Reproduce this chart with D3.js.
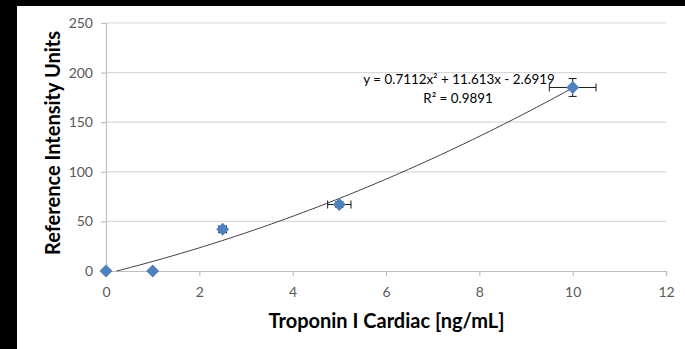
<!DOCTYPE html>
<html><head><meta charset="utf-8">
<script src="https://cdn.jsdelivr.net/npm/d3@7"></script>
<style>body{margin:0;background:#000;}svg{display:block;}</style>
</head><body><svg id="c" width="685" height="349"></svg>
<script>
const xValues = [0, 1, 2.5, 5, 10];
const yValues = [0, 0, 42, 67, 185];
const xErr = [0, 0, 0.08, 0.25, 0.5];
const yErr = [0, 0, 3, 3, 9];
const xTicks = [0, 2, 4, 6, 8, 10, 12];
const yTicks = [0, 50, 100, 150, 200, 250];
const trendCoef = [0.7112, 11.613, -2.6919];
const eqText = ["y = 0.7112x² + 11.613x - 2.6919", "R² = 0.9891"];
const xTitle = "Troponin I Cardiac [ng/mL]";
const yTitle = "Reference Intensity Units";

const svg = d3.select("#c");
svg.append("rect").attr("x",17).attr("y",6).attr("width",668).attr("height",343).attr("fill","#fff");
const x = d3.scaleLinear().domain([0,12]).range([106,666]);
const y = d3.scaleLinear().domain([0,250]).range([271,23]);
const font = "Lato, 'Open Sans', sans-serif";

// gridlines
svg.append("g").selectAll("line").data(yTicks.filter(d=>d>0)).join("line")
  .attr("x1",x(0)).attr("x2",x(12)).attr("y1",d=>y(d)).attr("y2",d=>y(d))
  .attr("stroke","#d9d9d9").attr("stroke-width",1.2);

// axes
const gx = svg.append("g").attr("transform",`translate(0,${y(0)})`)
  .call(d3.axisBottom(x).tickValues(xTicks).tickSize(5).tickPadding(8).tickFormat(d3.format("d")));
const gy = svg.append("g").attr("transform",`translate(${x(0)},0)`)
  .call(d3.axisLeft(y).tickValues(yTicks).tickSize(5).tickPadding(8).tickFormat(d3.format("d")));
[gx,gy].forEach(g=>{
  g.select(".domain").attr("stroke","#bfbfbf").attr("stroke-width",1.2);
  g.selectAll(".tick line").attr("stroke","#bfbfbf").attr("stroke-width",1.2);
  g.selectAll(".tick text").attr("fill","#595959").style("font-family",font).style("font-size","14px");
});
gx.selectAll(".tick text").attr("dy","0.95em");

// trendline (clipped at y>=0)
const f = t => trendCoef[0]*t*t + trendCoef[1]*t + trendCoef[2];
const t0 = (-trendCoef[1] + Math.sqrt(trendCoef[1]**2 - 4*trendCoef[0]*trendCoef[2]))/(2*trendCoef[0]);
const ts = d3.range(0,101).map(i=>t0 + (10-t0)*i/100);
svg.append("path").datum(ts)
  .attr("d", d3.line().x(t=>x(t)).y(t=>y(f(t))))
  .attr("fill","none").attr("stroke","#404040").attr("stroke-width",1);

// error bars
const data = xValues.map((v,i)=>({x:v,y:yValues[i],ex:xErr[i],ey:yErr[i]}));
const eb = svg.append("g").attr("stroke","#000").attr("stroke-width",0.9);
data.filter(d=>d.ex>0).forEach(d=>{
  eb.append("line").attr("x1",x(d.x-d.ex)).attr("x2",x(d.x+d.ex)).attr("y1",y(d.y)).attr("y2",y(d.y));
  eb.append("line").attr("x1",x(d.x-d.ex)).attr("x2",x(d.x-d.ex)).attr("y1",y(d.y)-4).attr("y2",y(d.y)+4);
  eb.append("line").attr("x1",x(d.x+d.ex)).attr("x2",x(d.x+d.ex)).attr("y1",y(d.y)-4).attr("y2",y(d.y)+4);
});
data.filter(d=>d.ey>0).forEach(d=>{
  eb.append("line").attr("x1",x(d.x)).attr("x2",x(d.x)).attr("y1",y(d.y-d.ey)).attr("y2",y(d.y+d.ey));
  eb.append("line").attr("x1",x(d.x)-4).attr("x2",x(d.x)+4).attr("y1",y(d.y-d.ey)).attr("y2",y(d.y-d.ey));
  eb.append("line").attr("x1",x(d.x)-4).attr("x2",x(d.x)+4).attr("y1",y(d.y+d.ey)).attr("y2",y(d.y+d.ey));
});

// markers
svg.append("g").selectAll("path").data(data).join("path")
  .attr("transform",d=>`translate(${x(d.x)},${y(d.y)})`)
  .attr("d","M0,-6.5L6.5,0L0,6.5L-6.5,0Z").attr("fill","#4f81bd");

// equation
svg.append("text").attr("x",459).attr("y",84).attr("text-anchor","middle")
  .style("font-family",font).style("font-size","13.4px").attr("fill","#000").text(eqText[0]);
svg.append("text").attr("x",458).attr("y",102.5).attr("text-anchor","middle")
  .style("font-family",font).style("font-size","13.4px").attr("fill","#000").text(eqText[1]);

// titles
svg.append("text").attr("x",386.5).attr("y",328).attr("text-anchor","middle")
  .style("font-family",font).style("font-size","20px").style("font-weight","bold").attr("fill","#000").text(xTitle);
svg.append("text").attr("transform","translate(60,143) rotate(-90)").attr("text-anchor","middle")
  .style("font-family",font).style("font-size","20px").style("font-weight","bold").attr("fill","#000").text(yTitle);
</script></body></html>
